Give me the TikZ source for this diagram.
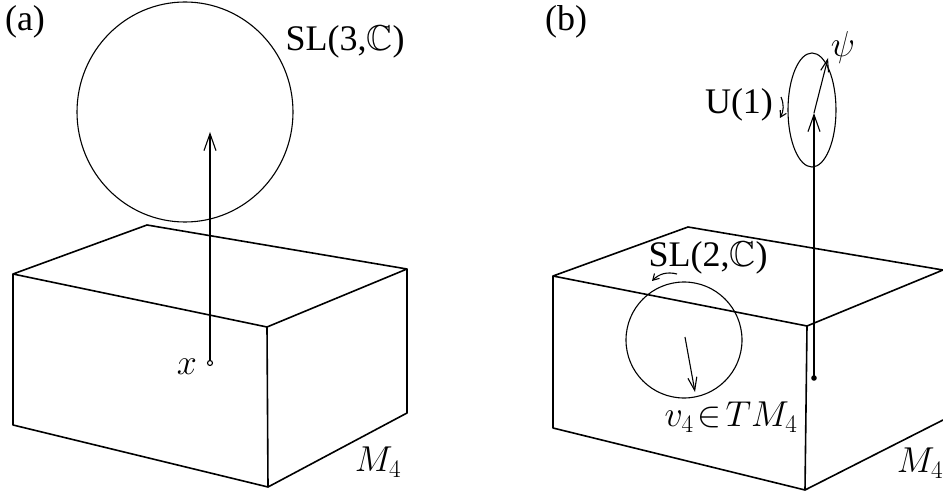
\RequirePackage{fix-cm}
\documentclass[tikz,border=0pt]{standalone}
\usepackage{amsmath, amssymb}
\DeclareFontFamily{U}{msb}{}
\DeclareFontShape{U}{msb}{m}{n}{<-> msbm10}{}
\usepackage{fontspec}
\setmainfont{Liberation Serif}
\usepackage{tikz}
\usetikzlibrary{arrows.meta, positioning}

\tikzset{
    lbl/.style={font=\fontsize{36}{42}\selectfont, inner sep=0pt},
    edge/.style={line width=1.6pt, line join=round},
    fine/.style={line width=1.1pt},
    smalltip/.style={-{Straight Barb[length=6pt, width=7pt]}}
}

\begin{document}
\begin{tikzpicture}[x=1pt, y=-1pt, >={Straight Barb[length=17pt, width=12pt]}]
    \useasboundingbox (0,0) rectangle (943,497);

    % Hình (a)
    \node[lbl] (lblA) at (25,22) {(a)};
    \draw[edge] (13,274) -- (147,225) -- (407,269) -- (267,327) -- cycle;
    \draw[edge] (13,274) -- (13,425) -- (268,487) -- (267,327);
    \draw[edge] (268,487) -- (407,413) -- (407,269);
    \node[lbl] (Ma) at (378,462) {$M_4$};

    % Thớ SL(3,C) trên điểm x
    \draw[fine] (185,112) ellipse [x radius=108, y radius=110];
    \node[lbl] (slA) at (345,42) {SL(3,$\mathbb{C}$)};
    \coordinate (ptA) at (210,363);
    \coordinate (tipA) at (210,132);
    \draw[fine, ->] (ptA) -- (tipA);
    \draw[fine, fill=white] (ptA) circle (2.5);
    \node[lbl, left=13pt of ptA, yshift=-4pt] (xA) {$x$};

    % Hình (b)
    \node[lbl] (lblB) at (566,22) {(b)};
    \draw[edge] (553,276) -- (688,227) -- (943,270) -- (807,326) -- cycle;
    \draw[edge] (553,276) -- (553,428) -- (805,490) -- (807,326);
    \draw[edge] (805,490) -- (943,420);
    \node[lbl] (Mb) at (920,463) {$M_4$};

    % Thớ SL(2,C) và vectơ v_4
    \draw[fine] (684,340) circle (58);
    \coordinate (vs) at (685,337);
    \coordinate (ve) at (695,392);
    \draw[fine, ->, >={Straight Barb[length=13pt, width=9pt]}] (vs) -- (ve);
    \node[lbl] (slB) at (708,258) {SL(2,$\mathbb{C}$)};
    \coordinate (rs) at (677,274);
    \coordinate (re) at (652,281);
    \draw[fine, smalltip] (rs) to[bend right=30] (re);
    \node[lbl] (vB) at (731,417) {$v_4\!\in\! TM_4$};

    % Thớ U(1) và psi
    \coordinate (ptB) at (814,378);
    \coordinate (tipB) at (814,113);
    \coordinate (psiB) at (828,58);
    \draw[fine, ->] (ptB) -- (tipB);
    \fill (ptB) circle (2.8);
    \draw[fine] (812,110) ellipse [x radius=24, y radius=57];
    \draw[fine, ->, >={Straight Barb[length=12pt, width=8pt]}] (tipB) -- (psiB);
    \node[lbl] (psi) at (843,48) {$\psi$};
    \node[lbl] (uB) at (739,105) {U(1)};
    \coordinate (us) at (781,97);
    \coordinate (ue) at (780,118);
    \draw[fine, smalltip] (us) to[bend left=25] (ue);

\end{tikzpicture}
\end{document}
